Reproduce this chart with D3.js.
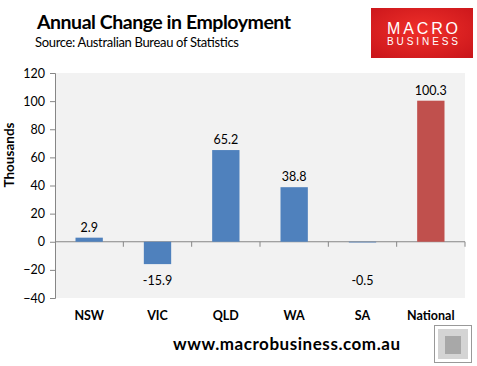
<!DOCTYPE html>
<html>
<head>
<meta charset="utf-8">
<script src="https://cdn.jsdelivr.net/npm/d3@7"></script>
<style>
  body { margin: 0; background: #fff; }
  svg { display: block; font-family: Lato, "Open Sans", sans-serif; }
</style>
</head>
<body>
<svg id="chart" width="477" height="366"></svg>
<script>
// chart data
let categories = ["NSW", "VIC", "QLD", "WA", "SA", "National"];
let values = [2.9, -15.9, 65.2, 38.8, -0.5, 100.3];
let y_ticks = [-40, -20, 0, 20, 40, 60, 80, 100, 120];
let label_text = ["2.9", "-15.9", "65.2", "38.8", "-0.5", "100.3"];

let svg = d3.select("#chart");
let plot = { left: 55, right: 465, top: 73, bottom: 298 };

let x = d3.scaleBand()
  .domain(categories)
  .range([plot.left, plot.right])
  .paddingInner(0.6)
  .paddingOuter(0.3);

let y = d3.scaleLinear()
  .domain([-40, 120])
  .range([plot.bottom, plot.top]);

// grey plot background
svg.append("rect")
  .attr("x", plot.left)
  .attr("y", plot.top)
  .attr("width", plot.right - plot.left)
  .attr("height", plot.bottom - plot.top)
  .style("fill", "#f2f2f2");

// y axis
let yAxis = svg.append("g")
  .attr("transform", "translate(" + plot.left + ",0)")
  .call(d3.axisLeft(y).tickValues(y_ticks).tickSize(5).tickPadding(5));
yAxis.select(".domain").attr("stroke", "#868686");
yAxis.selectAll(".tick line").attr("stroke", "#868686");
yAxis.selectAll("text")
  .style("font-family", "Lato, sans-serif")
  .style("font-size", "12.5px")
  .style("fill", "#000");

// x axis sits on zero, ticks between categories
let step = x.step();
let boundaries = d3.range(categories.length + 1).map(i => plot.left + i * step);
svg.append("line")
  .attr("x1", plot.left).attr("x2", plot.right)
  .attr("y1", y(0)).attr("y2", y(0))
  .attr("stroke", "#868686");
svg.selectAll(".xtick")
  .data(boundaries.slice(1))
  .enter().append("line")
  .attr("class", "xtick")
  .attr("x1", d => d).attr("x2", d => d)
  .attr("y1", y(0)).attr("y2", y(0) + 5)
  .attr("stroke", "#868686");

// bars
svg.selectAll(".bar")
  .data(values)
  .enter().append("rect")
  .attr("class", "bar")
  .attr("x", (d, i) => x(categories[i]))
  .attr("width", x.bandwidth())
  .attr("y", d => y(Math.max(0, d)))
  .attr("height", d => Math.abs(y(d) - y(0)))
  .style("fill", (d, i) => categories[i] == "National" ? "#c0504d" : "#4f81bd");

// data labels
let neg_base = y(d3.min(values)) + 21;
svg.selectAll(".vlabel")
  .data(values)
  .enter().append("text")
  .attr("class", "vlabel")
  .attr("x", (d, i) => x(categories[i]) + x.bandwidth() / 2)
  .attr("y", d => d >= 0 ? y(d) - 6 : neg_base)
  .attr("text-anchor", "middle")
  .style("font-size", "12.5px")
  .text((d, i) => label_text[i]);

// category labels
svg.selectAll(".clabel")
  .data(categories)
  .enter().append("text")
  .attr("class", "clabel")
  .attr("x", d => x(d) + x.bandwidth() / 2)
  .attr("y", 320)
  .attr("text-anchor", "middle")
  .style("font-size", "12.5px")
  .style("font-weight", "bold")
  .text(d => d);

// y axis title
svg.append("text")
  .attr("transform", "translate(14,155) rotate(-90)")
  .attr("text-anchor", "middle")
  .style("font-size", "13.5px")
  .style("font-weight", "bold")
  .text("Thousands");

// titles
svg.append("text")
  .attr("x", 37).attr("y", 29)
  .attr("textLength", 254)
  .style("font-size", "19.5px")
  .style("font-weight", "bold")
  .text("Annual Change in Employment");
svg.append("text")
  .attr("x", 35).attr("y", 47)
  .attr("textLength", 204)
  .style("font-size", "13px")
  .text("Source: Australian Bureau of Statistics");

// logo
let grad = svg.append("defs").append("radialGradient")
  .attr("id", "logo-grad").attr("cx", "50%").attr("cy", "45%").attr("r", "75%");
grad.append("stop").attr("offset", "0%").attr("stop-color", "#f0302a");
grad.append("stop").attr("offset", "100%").attr("stop-color", "#c8141a");
svg.append("rect")
  .attr("x", 371).attr("y", 8)
  .attr("width", 102).attr("height", 50)
  .style("fill", "url(#logo-grad)");
svg.append("text")
  .attr("x", 387).attr("y", 33.5)
  .attr("textLength", 71)
  .style("font-family", "'Liberation Sans', Arial, sans-serif")
  .style("font-size", "16px")
  .style("fill", "#fff")
  .text("MACRO");
svg.append("text")
  .attr("x", 387).attr("y", 44.5)
  .attr("textLength", 71)
  .style("font-family", "'Liberation Sans', Arial, sans-serif")
  .style("font-size", "10px")
  .style("fill", "#fff")
  .text("BUSINESS");

// footer
svg.append("text")
  .attr("x", 173).attr("y", 350)
  .attr("textLength", 227)
  .style("font-size", "17px")
  .style("font-weight", "bold")
  .text("www.macrobusiness.com.au");
// fox badge (placeholder for the picture)
svg.append("rect")
  .attr("x", 434.5).attr("y", 325.5)
  .attr("width", 37).attr("height", 37)
  .style("fill", "#fff")
  .style("stroke", "#999");
svg.append("rect")
  .attr("x", 438).attr("y", 329)
  .attr("width", 30).attr("height", 30)
  .style("fill", "#d4d4d4");
svg.append("rect")
  .attr("x", 445).attr("y", 336)
  .attr("width", 16).attr("height", 18)
  .style("fill", "#a8a8a8");
</script>
</body>
</html>
